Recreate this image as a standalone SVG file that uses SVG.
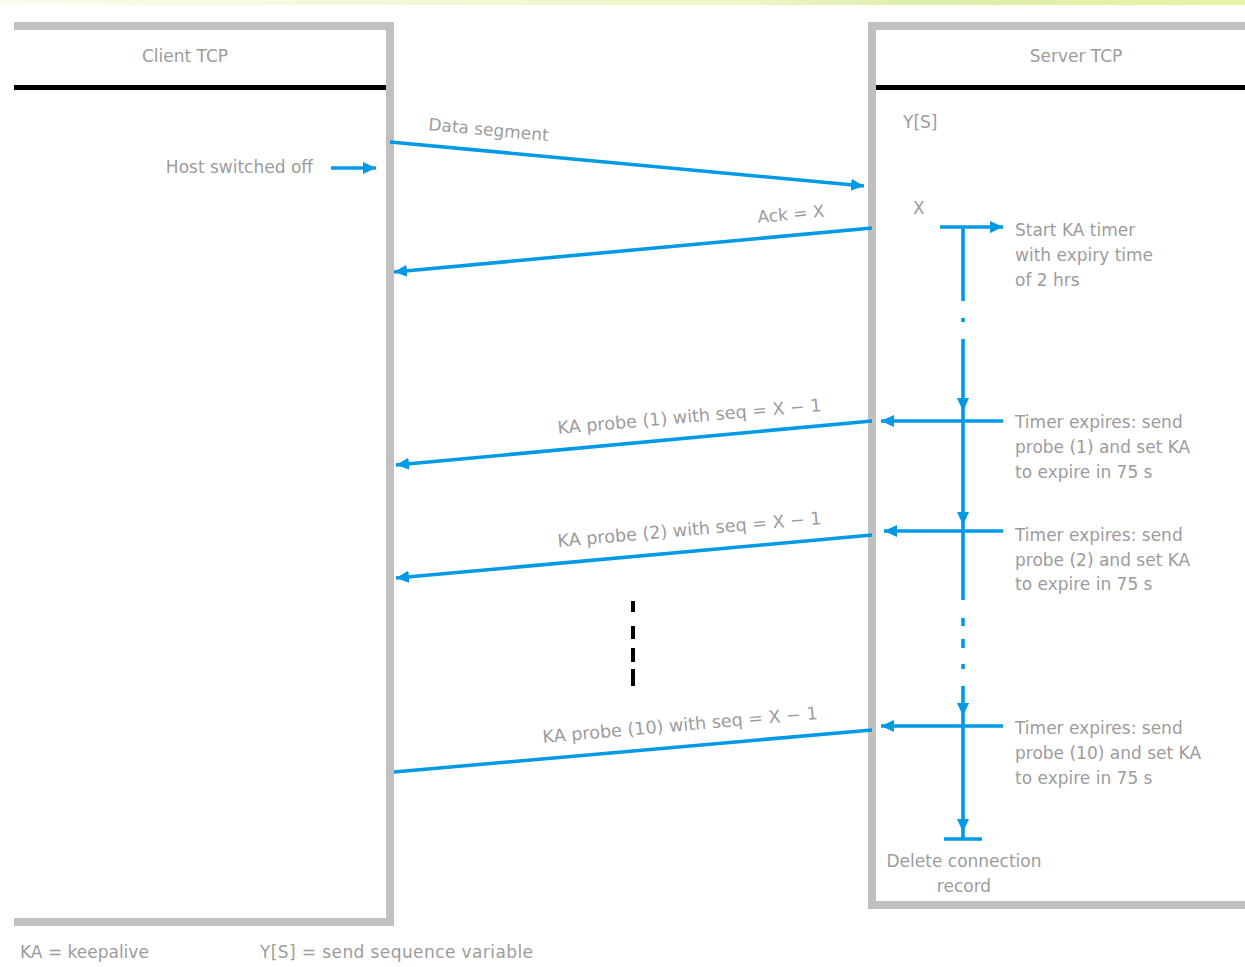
<svg xmlns="http://www.w3.org/2000/svg" width="1245" height="967" viewBox="0 0 1245 967">
<defs>
<linearGradient id="topg" x1="0" y1="0" x2="1" y2="0">
<stop offset="0" stop-color="#f9fcec"/>
<stop offset="0.6" stop-color="#eef6c6"/>
<stop offset="0.75" stop-color="#dcedaa"/>
<stop offset="1" stop-color="#e9f3a6"/>
</linearGradient>
<marker id="ah" markerWidth="16" markerHeight="14" refX="13" refY="6" orient="auto" markerUnits="userSpaceOnUse">
<path d="M0,0 L13,6 L0,12 Z" fill="#0099e6"/>
</marker>
<style>
.t{font-family:"DejaVu Sans","Liberation Sans",sans-serif;font-size:17px;fill:#9c9c9c}
.p{font-size:17.6px}
.c{text-anchor:middle}
.box{fill:#c0c0c0}
.hdr{fill:#000}
.b{stroke:#0099e6;stroke-width:3.6;fill:none}
.bf{fill:#0099e6}
</style>
</defs>
<rect x="0" y="0" width="1245" height="5" fill="url(#topg)"/>

<g id="client">
<rect class="box" x="14" y="22" width="380" height="8"/>
<rect class="box" x="386" y="22" width="8" height="904"/>
<rect class="box" x="14" y="918" width="380" height="8"/>
<rect class="hdr" x="14" y="85" width="372" height="5"/>
<text class="t c" x="185" y="62">Client TCP</text>
<text class="t" x="313" y="173" text-anchor="end">Host switched off</text>
</g>

<g id="server">
<rect class="box" x="868" y="22" width="8" height="887"/>
<rect class="box" x="868" y="22" width="377" height="8"/>
<rect class="box" x="868" y="901" width="377" height="8"/>
<rect class="hdr" x="876" y="85" width="369" height="5"/>
<text class="t c" x="1076" y="62">Server TCP</text>
<text class="t" x="903" y="128">Y[S]</text>
<text class="t" x="913" y="214">X</text>
<text class="t"><tspan x="1015" y="236">Start KA timer</tspan><tspan x="1015" y="261">with expiry time</tspan><tspan x="1015" y="286">of 2 hrs</tspan></text>
<text class="t"><tspan x="1015" y="428">Timer expires: send</tspan><tspan x="1015" y="453">probe (1) and set KA</tspan><tspan x="1015" y="478">to expire in 75 s</tspan></text>
<text class="t"><tspan x="1015" y="541">Timer expires: send</tspan><tspan x="1015" y="566">probe (2) and set KA</tspan><tspan x="1015" y="590">to expire in 75 s</tspan></text>
<text class="t"><tspan x="1015" y="734">Timer expires: send</tspan><tspan x="1015" y="759">probe (10) and set KA</tspan><tspan x="1015" y="784">to expire in 75 s</tspan></text>
<text class="t c"><tspan x="964" y="867">Delete connection</tspan><tspan x="964" y="892">record</tspan></text>
</g>

<g id="legend">
<text class="t" x="20" y="958">KA = keepalive</text>
<text class="t" x="260" y="958" textLength="273">Y[S] = send sequence variable</text>
</g>

<g id="connectors">
<line class="b" x1="331" y1="168" x2="376" y2="168" marker-end="url(#ah)"/>
<line class="b" x1="390" y1="142" x2="864" y2="186" marker-end="url(#ah)"/>
<text class="t" x="428" y="130" transform="rotate(5.3 428 130)">Data segment</text>
<line class="b" x1="872" y1="228" x2="394" y2="272" marker-end="url(#ah)"/>
<text class="t" x="758" y="223" transform="rotate(-5.3 758 223)">Ack = X</text>

<line class="b" x1="872" y1="421" x2="396" y2="465" marker-end="url(#ah)"/>
<text class="t p" x="558" y="434" transform="rotate(-5 558 434)">KA probe (1) with seq = X − 1</text>
<line class="b" x1="872" y1="535" x2="396" y2="578" marker-end="url(#ah)"/>
<text class="t p" x="558" y="547" transform="rotate(-5 558 547)">KA probe (2) with seq = X − 1</text>
<line class="b" x1="872" y1="730" x2="394" y2="772"/>
<text class="t p" x="543" y="743" transform="rotate(-5 543 743)">KA probe (10) with seq = X − 1</text>

<line x1="633" y1="601" x2="633" y2="686" stroke="#000" stroke-width="4" stroke-dasharray="11 14 13 9 14 7 17"/>

<line class="b" x1="940" y1="227" x2="1003" y2="227" marker-end="url(#ah)"/>
<path class="b" d="M963,227 V301 M963,318 V322 M963,339 V600 M963,618 V626 M963,639 V648 M963,664 V669 M963,686 V838"/>
<line class="b" x1="944" y1="839" x2="982" y2="839"/>
<path class="bf" d="M957,398 L969,398 L963,411 Z"/>
<path class="bf" d="M957,512 L969,512 L963,525 Z"/>
<path class="bf" d="M957,703 L969,703 L963,716 Z"/>
<path class="bf" d="M957,819 L969,819 L963,832 Z"/>
<line class="b" x1="1003" y1="421" x2="881" y2="421" marker-end="url(#ah)"/>
<line class="b" x1="1003" y1="531" x2="884" y2="531" marker-end="url(#ah)"/>
<line class="b" x1="1003" y1="726" x2="881" y2="726" marker-end="url(#ah)"/>
</g>
</svg>
